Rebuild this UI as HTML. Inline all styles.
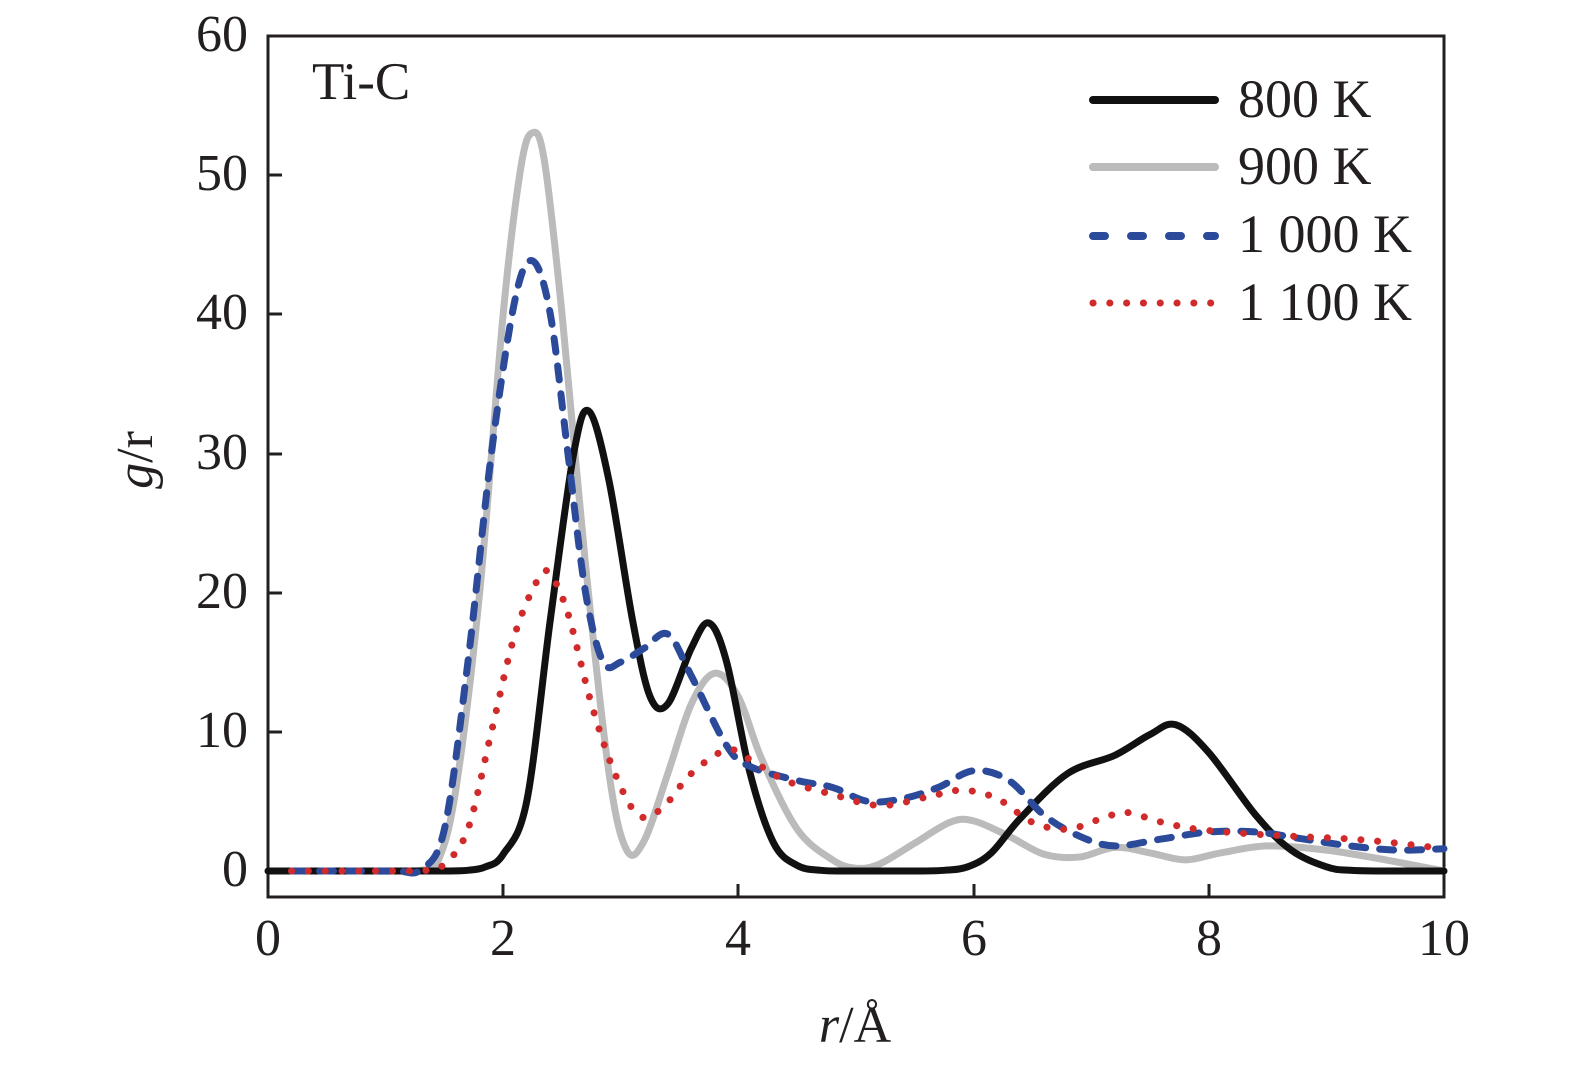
<!DOCTYPE html>
<html><head><meta charset="utf-8"><style>
html,body{margin:0;padding:0;background:#fff;}
svg text{font-family:"Liberation Serif",serif;fill:#231f20;}
</style></head><body>
<svg id="s" width="1575" height="1067" viewBox="0 0 1575 1067" xmlns="http://www.w3.org/2000/svg">
<rect x="268" y="36" width="1176" height="861" fill="none" stroke="#231f20" stroke-width="3"/>
<g stroke="#231f20" stroke-width="3">
<line x1="268" y1="871" x2="282" y2="871"/><line x1="268" y1="732" x2="282" y2="732"/>
<line x1="268" y1="593" x2="282" y2="593"/><line x1="268" y1="454" x2="282" y2="454"/>
<line x1="268" y1="314" x2="282" y2="314"/><line x1="268" y1="175" x2="282" y2="175"/>
<line x1="503" y1="897" x2="503" y2="884"/><line x1="738" y1="897" x2="738" y2="884"/>
<line x1="974" y1="897" x2="974" y2="884"/><line x1="1209" y1="897" x2="1209" y2="884"/>
</g>
<g font-size="52" text-anchor="end">
<text x="248" y="51">60</text><text x="248" y="190">50</text><text x="248" y="329">40</text>
<text x="248" y="469">30</text><text x="248" y="608">20</text><text x="248" y="747">10</text>
<text x="248" y="886">0</text>
</g>
<g font-size="52" text-anchor="middle">
<text x="268" y="955">0</text><text x="503" y="955">2</text><text x="738" y="955">4</text>
<text x="974" y="955">6</text><text x="1209" y="955">8</text><text x="1444" y="955">10</text>
</g>
<text x="312" y="99" font-size="53">Ti-C</text>
<text transform="translate(152,460) rotate(-90)" font-size="52" text-anchor="middle"><tspan font-style="italic">g</tspan>/r</text>
<text x="855" y="1042" font-size="52" text-anchor="middle"><tspan font-style="italic">r</tspan>/Å</text>
<g id="curves" fill="none" stroke-linecap="round" stroke-linejoin="round"></g>
<g stroke-linecap="round">
<line x1="1093" y1="100" x2="1215" y2="100" stroke="#111" stroke-width="8"/>
<line x1="1093" y1="167" x2="1215" y2="167" stroke="#bbb" stroke-width="8"/>
<line x1="1093" y1="236" x2="1215" y2="236" stroke="#2b4a9a" stroke-width="8" stroke-dasharray="12 26"/>
<line x1="1093" y1="303" x2="1215" y2="303" stroke="#d02a2a" stroke-width="7" stroke-dasharray="0.1 16.7"/>
</g>
<g font-size="54">
<text x="1238" y="117">800 K</text><text x="1238" y="184">900 K</text>
<text x="1238" y="252">1 000 K</text><text x="1238" y="320">1 100 K</text>
</g>
</svg>
<script>
function X(v){return 268+v*117.6;}function Y(v){return 871-v*13.93;}
function path(p){var q=p.map(function(a){return [X(a[0]),Y(a[1])];});
var d="M"+q[0][0]+","+q[0][1];
for(var i=0;i<q.length-1;i++){var p0=q[i-1]||q[i],p1=q[i],p2=q[i+1],p3=q[i+2]||p2;
d+=" C"+(p1[0]+(p2[0]-p0[0])/6)+","+(p1[1]+(p2[1]-p0[1])/6)+" "+(p2[0]-(p3[0]-p1[0])/6)+","+(p2[1]-(p3[1]-p1[1])/6)+" "+p2[0]+","+p2[1];}
return d;}
var S=[
{c:"#bbb",w:7,da:"",p:[[0.2,0],[0.5,0],[0.8,0],[1.1,0],[1.3,0.05],[1.45,0.8],[1.6,6],[1.8,20],[2.0,40],[2.15,50.5],[2.25,53],[2.35,51],[2.5,40],[2.7,22],[2.9,7],[3.05,1.5],[3.2,2.2],[3.4,7],[3.6,12],[3.8,14.2],[4.0,12.5],[4.2,8],[4.5,3],[4.8,0.8],[5.0,0.2],[5.2,0.5],[5.5,2],[5.8,3.5],[6.0,3.6],[6.3,2.5],[6.6,1.2],[6.9,1],[7.2,1.7],[7.5,1.3],[7.8,0.8],[8.1,1.3],[8.5,1.8],[9.0,1.5],[9.5,0.8],[10,0]]},
{c:"#111",w:7,da:"",p:[[0,0],[0.4,0],[0.8,0],[1.2,0],[1.5,0],[1.7,0.05],[1.85,0.3],[2.0,1.2],[2.2,5],[2.4,18],[2.6,30],[2.73,33],[2.9,28],[3.1,18],[3.25,12.5],[3.4,12],[3.6,16],[3.75,17.8],[3.9,15],[4.1,7],[4.3,2],[4.5,0.4],[4.7,0.05],[4.9,0],[5.2,0],[5.5,0],[5.75,0.05],[5.95,0.3],[6.15,1.3],[6.4,3.8],[6.8,7],[7.2,8.3],[7.5,9.8],[7.72,10.5],[8.0,8.5],[8.4,4],[8.7,1.5],[9.0,0.3],[9.2,0.05],[9.5,0],[10,0]]},
{c:"#2b4a9a",w:7,da:"14 14",p:[[0.2,0],[0.5,0],[0.8,0],[1.1,0],[1.3,0.1],[1.5,3],[1.7,15],[1.9,30],[2.1,41],[2.25,43.8],[2.4,40],[2.55,30],[2.7,20],[2.85,15],[3.0,15],[3.2,16],[3.4,17],[3.6,14],[3.9,9],[4.1,7.5],[4.5,6.5],[4.8,6],[5.1,5],[5.4,5.2],[5.7,6],[6.0,7.2],[6.3,6.5],[6.6,4],[6.9,2.5],[7.2,1.8],[7.6,2.3],[8.0,2.8],[8.4,2.8],[8.8,2.3],[9.2,1.8],[9.6,1.5],[10,1.6]]},
{c:"#d02a2a",w:7,da:"0.1 16.7",p:[[0.2,0],[0.5,0],[0.8,0],[1.1,0],[1.35,0.05],[1.5,0.5],[1.7,3],[1.9,10],[2.1,17],[2.3,21],[2.4,21.3],[2.55,18.5],[2.75,12],[2.95,7],[3.15,4],[3.35,4.5],[3.6,7],[3.9,8.7],[4.1,8],[4.4,6.5],[4.8,5.5],[5.2,4.7],[5.6,5.3],[5.9,5.8],[6.2,5.2],[6.5,3.5],[6.8,3],[7.1,3.8],[7.3,4.2],[7.6,3.5],[7.9,3],[8.3,2.7],[8.7,2.5],[9.2,2.3],[9.6,2],[10,1.6]]}];
var g=document.getElementById("curves");
S.forEach(function(s){var e=document.createElementNS("http://www.w3.org/2000/svg","path");
e.setAttribute("d",path(s.p));e.setAttribute("stroke",s.c);e.setAttribute("stroke-width",s.w);
if(s.da)e.setAttribute("stroke-dasharray",s.da);g.appendChild(e);});
</script>
</body></html>
